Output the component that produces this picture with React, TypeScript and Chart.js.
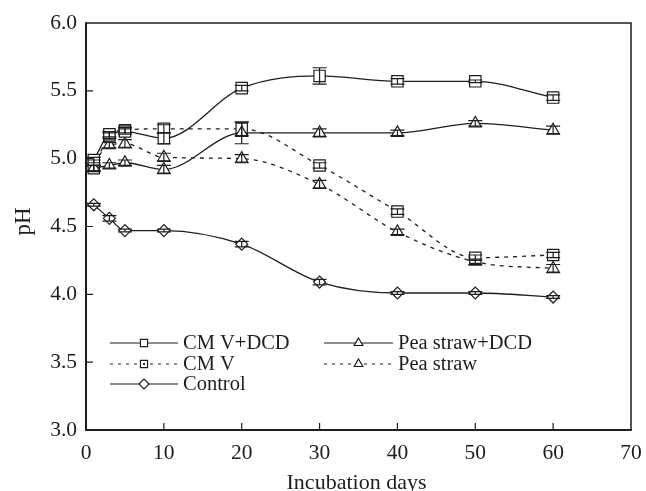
import React, { useEffect, useRef } from 'react';
import { Chart, registerables } from 'chart.js';

Chart.register(...registerables);

// ---- data ----
const days = [1, 3, 5, 10, 20, 30, 40, 50, 60];
const cmvDcd = [4.99, 5.18, 5.2, 5.15, 5.52, 5.61, 5.57, 5.57, 5.45];
const cmv = [4.93, 5.17, 5.21, 5.22, 5.22, 4.95, 4.61, 4.27, 4.29];
const peaDcd = [4.93, 4.95, 4.97, 4.92, 5.19, 5.19, 5.19, 5.26, 5.21];
const pea = [4.97, 5.1, 5.11, 5.01, 5.0, 4.81, 4.46, 4.24, 4.19];
const control = [4.66, 4.56, 4.47, 4.47, 4.37, 4.09, 4.01, 4.01, 3.98];

const cmvDcdErr = [0.02, 0.02, 0.02, 0.04, 0.02, 0.06, 0.02, 0.01, 0.02];
const cmvErr = [0.02, 0.02, 0.02, 0.03, 0.05, 0.02, 0.02, 0.02, 0.02];
const peaDcdErr = [0.02, 0.02, 0.02, 0.03, 0.08, 0.03, 0.02, 0.02, 0.03];
const peaErr = [0.02, 0.02, 0.03, 0.03, 0.03, 0.03, 0.02, 0.02, 0.03];
const controlErr = [0.01, 0.02, 0.01, 0.01, 0.02, 0.02, 0.01, 0.01, 0.01];

const seriesLabels = ['CM V+DCD', 'Pea straw+DCD', 'CM V', 'Pea straw', 'Control'];
const xTicks = [0, 10, 20, 30, 40, 50, 60, 70];
const yTicks = [3.0, 3.5, 4.0, 4.5, 5.0, 5.5, 6.0];
const xTitle = 'Incubation days';
const yTitle = 'pH';

const INK = '#1e1e1e';
const FONT = '"Liberation Serif", "Times New Roman", serif';

type Shape = 'rect' | 'triangle' | 'rectRot';

function drawMarker(ctx: CanvasRenderingContext2D, shape: Shape, x: number, y: number, r: number, dot = false) {
  ctx.save();
  ctx.setLineDash([]);
  ctx.beginPath();
  if (shape === 'rect') {
    const s = r * Math.SQRT1_2;
    ctx.rect(x - s, y - s, 2 * s, 2 * s);
  } else if (shape === 'triangle') {
    ctx.moveTo(x, y - r);
    ctx.lineTo(x + r * 0.866, y + r * 0.5);
    ctx.lineTo(x - r * 0.866, y + r * 0.5);
    ctx.closePath();
  } else {
    ctx.moveTo(x - r, y);
    ctx.lineTo(x, y - r);
    ctx.lineTo(x + r, y);
    ctx.lineTo(x, y + r);
    ctx.closePath();
  }
  ctx.fillStyle = '#fff';
  ctx.fill();
  ctx.lineWidth = 1.2;
  ctx.strokeStyle = INK;
  ctx.stroke();
  if (dot) {
    ctx.fillStyle = INK;
    ctx.fillRect(x - 1, y - 1, 2, 2);
  }
  ctx.restore();
}

const seriesDefs = [
  { label: seriesLabels[0], values: cmvDcd, err: cmvDcdErr, shape: 'rect' as Shape, dash: [] as number[], r: 8 },
  { label: seriesLabels[1], values: peaDcd, err: peaDcdErr, shape: 'triangle' as Shape, dash: [] as number[], r: 7 },
  { label: seriesLabels[2], values: cmv, err: cmvErr, shape: 'rect' as Shape, dash: [4, 5], r: 8 },
  { label: seriesLabels[3], values: pea, err: peaErr, shape: 'triangle' as Shape, dash: [4, 5], r: 7 },
  { label: seriesLabels[4], values: control, err: controlErr, shape: 'rectRot' as Shape, dash: [] as number[], r: 6 },
];

const overlayPlugin = {
  id: 'overlay',
  afterDatasetsDraw(chart: any) {
    const ctx: CanvasRenderingContext2D = chart.ctx;
    const xs = chart.scales.x;
    const ys = chart.scales.y;
    ctx.save();
    ctx.strokeStyle = INK;
    ctx.lineWidth = 1.2;
    ctx.setLineDash([]);
    seriesDefs.forEach((s) => {
      s.values.forEach((v, i) => {
        const e = s.err[i];
        const px = xs.getPixelForValue(days[i]);
        const top = ys.getPixelForValue(v + e);
        const bot = ys.getPixelForValue(v - e);
        const cap = 7;
        ctx.beginPath();
        ctx.moveTo(px, top);
        ctx.lineTo(px, bot);
        ctx.moveTo(px - cap, top);
        ctx.lineTo(px + cap, top);
        ctx.moveTo(px - cap, bot);
        ctx.lineTo(px + cap, bot);
        ctx.stroke();
      });
    });
    ctx.restore();
  },
  afterDraw(chart: any) {
    const ctx: CanvasRenderingContext2D = chart.ctx;
    const { left, right, top, bottom } = chart.chartArea;
    const xs = chart.scales.x;
    const ys = chart.scales.y;
    ctx.save();
    ctx.strokeStyle = INK;
    ctx.setLineDash([]);
    // frame
    ctx.lineWidth = 1.5;
    ctx.beginPath();
    ctx.moveTo(left, top);
    ctx.lineTo(right, top);
    ctx.lineTo(right, bottom);
    ctx.stroke();
    ctx.lineWidth = 2;
    ctx.beginPath();
    ctx.moveTo(left, top - 0.75);
    ctx.lineTo(left, bottom);
    ctx.lineTo(right + 0.75, bottom);
    ctx.stroke();
    // inward ticks
    ctx.lineWidth = 1.2;
    ctx.beginPath();
    yTicks.forEach((t) => {
      if (t === yTicks[0] || t === yTicks[yTicks.length - 1]) return;
      const py = ys.getPixelForValue(t);
      ctx.moveTo(left, py);
      ctx.lineTo(left + 7, py);
    });
    xTicks.forEach((t) => {
      if (t === xTicks[0] || t === xTicks[xTicks.length - 1]) return;
      const px = xs.getPixelForValue(t);
      ctx.moveTo(px, bottom);
      ctx.lineTo(px, bottom - 7);
    });
    ctx.stroke();

    // axis titles
    ctx.fillStyle = INK;
    ctx.font = `22px ${FONT}`;
    ctx.textAlign = 'center';
    ctx.textBaseline = 'middle';
    ctx.fillText(xTitle, (left + right) / 2 - 2, 483);
    ctx.save();
    ctx.translate(24, (top + bottom) / 2 - 5);
    ctx.rotate(-Math.PI / 2);
    ctx.font = `23px ${FONT}`;
    ctx.fillText(yTitle, 0, 0);
    ctx.restore();

    // legend
    const rows = [343, 364, 384];
    const cols = [
      { x0: 110, x1: 178, tx: 183 },
      { x0: 324, x1: 393, tx: 398 },
    ];
    const order = [
      { s: 0, row: 0, col: 0 },
      { s: 1, row: 0, col: 1 },
      { s: 2, row: 1, col: 0 },
      { s: 3, row: 1, col: 1 },
      { s: 4, row: 2, col: 0 },
    ];
    ctx.font = `20.5px ${FONT}`;
    ctx.textAlign = 'left';
    order.forEach((o) => {
      const d = seriesDefs[o.s];
      const c = cols[o.col];
      const y = rows[o.row];
      ctx.save();
      ctx.lineWidth = 1.2;
      ctx.strokeStyle = INK;
      ctx.setLineDash(d.dash.length ? [3, 5] : []);
      ctx.beginPath();
      ctx.moveTo(c.x0, y);
      ctx.lineTo(c.x1, y);
      ctx.stroke();
      ctx.restore();
      const mx = (c.x0 + c.x1) / 2;
      drawMarker(ctx, d.shape, mx, y, 5, d.dash.length > 0 && d.shape === 'rect');
      ctx.fillStyle = INK;
      ctx.fillText(d.label, c.tx, y + 1);
    });
    ctx.restore();
  },
};

export default function App() {
  const ref = useRef<HTMLCanvasElement | null>(null);

  useEffect(() => {
    document.body.style.margin = '0';
    const canvas = ref.current;
    if (!canvas) return;
    const datasets = seriesDefs.map((s) => ({
      label: s.label,
      data: days.map((d, i) => ({ x: d, y: s.values[i] })),
      borderColor: INK,
      borderWidth: 1.3,
      borderDash: s.dash,
      pointStyle: s.shape,
      pointRadius: s.r,
      pointBorderWidth: 1.2,
      pointBorderColor: INK,
      pointBackgroundColor: '#fff',
      cubicInterpolationMode: 'monotone' as const,
      fill: false,
    }));
    const chart = new Chart(canvas, {
      type: 'line',
      data: { datasets },
      options: {
        animation: false,
        responsive: false,
        maintainAspectRatio: false,
        layout: { padding: { left: 0, top: 23, right: 15, bottom: 0 } },
        plugins: { legend: { display: false }, tooltip: { enabled: false } },
        scales: {
          x: {
            type: 'linear',
            min: 0,
            max: 70,
            grid: { display: false, drawTicks: false },
            border: { display: false },
            ticks: {
              stepSize: 10,
              padding: 10,
              color: INK,
              font: { family: FONT, size: 21.5 },
              maxRotation: 0,
              callback: (v: any) => String(v),
            },
            afterFit: (scale: any) => {
              scale.height = 61;
              scale.paddingLeft = 0;
              scale.paddingRight = 0;
            },
          },
          y: {
            type: 'linear',
            min: 3,
            max: 6,
            grid: { display: false, drawTicks: false },
            border: { display: false },
            ticks: {
              stepSize: 0.5,
              padding: 9,
              color: INK,
              font: { family: FONT, size: 21.5 },
              callback: (v: any) => Number(v).toFixed(1),
            },
            afterFit: (scale: any) => {
              scale.width = 86;
              scale.paddingTop = 0;
              scale.paddingBottom = 0;
            },
          },
        },
      },
      plugins: [overlayPlugin],
    });
    return () => chart.destroy();
  }, []);

  return (
    <div style={{ width: 646, height: 491, position: 'relative' }}>
      <canvas ref={ref} width={646} height={491} style={{ display: 'block' }} />
    </div>
  );
}
